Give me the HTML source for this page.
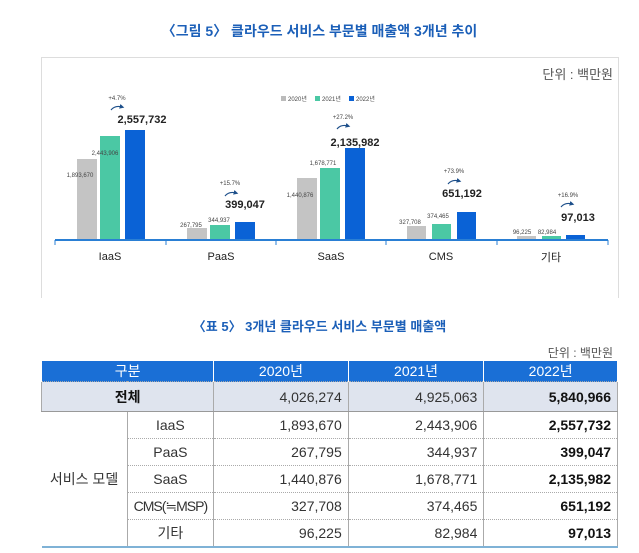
<!DOCTYPE html>
<html><head><meta charset="utf-8"><style>
body{margin:0;width:639px;height:553px;background:#fff;font-family:"Liberation Sans","Noto Sans CJK KR",sans-serif;position:relative;overflow:hidden}
.t{position:absolute;white-space:nowrap}
table{position:absolute;left:41px;top:361px;width:577px;border-collapse:collapse;font-size:14px;color:#333}
td{height:26px;padding:0 6px;border:1px solid #aaa;border-top:1px dotted #aaa;border-bottom:1px dotted #aaa}
td.n{text-align:right}
td.b{font-weight:bold;color:#111}
tr.h td{background:#1a6fd6;color:#fff;height:19px;text-align:center;border-color:#fff;border-top:none;border-bottom:none}
tr.a td{background:#dfe4ee;height:29px;border-bottom:1px solid #999}
tr:last-child td{border-bottom:2px solid #7fb2d6}
</style></head><body>
<div class="t" style="left:0;width:639px;text-align:center;top:21px;font-size:14px;font-weight:bold;color:#1b5fb8">〈그림 5〉 클라우드 서비스 부문별 매출액 3개년 추이</div>
<div style="position:absolute;left:41px;top:57px;width:576px;height:240px;border:1px solid #ddd;border-bottom:none"></div>
<div class="t" style="right:26px;top:64px;font-size:13px;color:#555">단위 : 백만원</div>
<svg width="639" height="300" style="position:absolute;left:0;top:0" font-family="Liberation Sans, Noto Sans CJK KR, sans-serif">
<defs><marker id="m" markerWidth="4" markerHeight="4" refX="2" refY="2" orient="auto"><path d="M0 0 L4 2 L0 4z" fill="#1d4f8a"/></marker></defs>
<rect x="281" y="96" width="5" height="5" fill="#bbb"/><text x="288" y="101" font-size="6" fill="#444">2020년</text>
<rect x="315" y="96" width="5" height="5" fill="#4bc8a4"/><text x="322" y="101" font-size="6" fill="#444">2021년</text>
<rect x="349" y="96" width="5" height="5" fill="#0a62d6"/><text x="356" y="101" font-size="6" fill="#444">2022년</text>
<g>
<rect x="77" y="159" width="20" height="81" fill="#c4c4c4"/><rect x="100" y="136" width="20" height="104" fill="#4bc8a4"/><rect x="125" y="130" width="20" height="110" fill="#0a62d6"/>
<rect x="187" y="228" width="20" height="12" fill="#c4c4c4"/><rect x="210" y="225" width="20" height="15" fill="#4bc8a4"/><rect x="235" y="222" width="20" height="18" fill="#0a62d6"/>
<rect x="297" y="178" width="20" height="62" fill="#c4c4c4"/><rect x="320" y="168" width="20" height="72" fill="#4bc8a4"/><rect x="345" y="148" width="20" height="92" fill="#0a62d6"/>
<rect x="407" y="226" width="19" height="14" fill="#c4c4c4"/><rect x="432" y="224" width="19" height="16" fill="#4bc8a4"/><rect x="457" y="212" width="19" height="28" fill="#0a62d6"/>
<rect x="517" y="236" width="19" height="4" fill="#c4c4c4"/><rect x="542" y="236" width="19" height="4" fill="#4bc8a4"/><rect x="566" y="235" width="19" height="5" fill="#0a62d6"/>
</g>
<line x1="55" y1="240" x2="608" y2="240" stroke="#2a7fd4" stroke-width="2"/>
<g stroke="#2a7fd4" stroke-width="1"><line x1="55" y1="240" x2="55" y2="245"/><line x1="166" y1="240" x2="166" y2="245"/><line x1="276" y1="240" x2="276" y2="245"/><line x1="386" y1="240" x2="386" y2="245"/><line x1="497" y1="240" x2="497" y2="245"/><line x1="608" y1="240" x2="608" y2="245"/></g>
<g font-size="11" fill="#222" text-anchor="middle"><text x="110" y="260">IaaS</text><text x="221" y="260">PaaS</text><text x="331" y="260">SaaS</text><text x="441" y="260">CMS</text><text x="551" y="261">기타</text></g>
<g font-size="11" font-weight="bold" fill="#222" text-anchor="middle"><text x="142" y="123">2,557,732</text><text x="245" y="208">399,047</text><text x="355" y="146">2,135,982</text><text x="462" y="197">651,192</text><text x="578" y="221">97,013</text></g>
<g font-size="6" fill="#444" text-anchor="middle"><text x="80" y="177">1,893,670</text><text x="105" y="155">2,443,906</text><text x="191" y="227">267,795</text><text x="219" y="222">344,937</text><text x="300" y="197">1,440,876</text><text x="323" y="165">1,678,771</text><text x="410" y="224">327,708</text><text x="438" y="218">374,465</text><text x="522" y="234">96,225</text><text x="547" y="234">82,984</text>
<text x="117" y="100">+4.7%</text><text x="230" y="185">+15.7%</text><text x="343" y="146" dy="-27">+27.2%</text><text x="454" y="173">+73.9%</text><text x="568" y="197">+16.9%</text></g>
<g fill="none" stroke="#1d4f8a" stroke-width="1.2" marker-end="url(#m)"><path d="M111 110 q4 -5 11 -3"/><path d="M225 196 q4 -5 11 -3"/><path d="M337 129 q4 -5 11 -3"/><path d="M448 184 q4 -5 11 -3"/><path d="M561 207 q4 -5 11 -3"/></g>
</svg>
<div class="t" style="left:0;width:639px;text-align:center;top:316px;font-size:13px;font-weight:bold;color:#1b5fb8">〈표 5〉 3개년 클라우드 서비스 부문별 매출액</div>
<div class="t" style="right:26px;top:344px;font-size:12px;color:#555">단위 : 백만원</div>
<table>
<colgroup><col style="width:86px"><col style="width:86px"><col style="width:135px"><col style="width:136px"><col style="width:134px"></colgroup>
<tr class="h"><td colspan="2">구분</td><td>2020년</td><td>2021년</td><td>2022년</td></tr>
<tr class="a"><td colspan="2" style="text-align:center;font-weight:bold;color:#111">전체</td><td class="n">4,026,274</td><td class="n">4,925,063</td><td class="n b">5,840,966</td></tr>
<tr><td rowspan="5" style="text-align:center;border-left:none;border-bottom:2px solid #7fb2d6">서비스 모델</td><td style="text-align:center">IaaS</td><td class="n">1,893,670</td><td class="n">2,443,906</td><td class="n b">2,557,732</td></tr>
<tr><td style="text-align:center">PaaS</td><td class="n">267,795</td><td class="n">344,937</td><td class="n b">399,047</td></tr>
<tr><td style="text-align:center">SaaS</td><td class="n">1,440,876</td><td class="n">1,678,771</td><td class="n b">2,135,982</td></tr>
<tr><td style="text-align:center;letter-spacing:-1px">CMS(≒MSP)</td><td class="n">327,708</td><td class="n">374,465</td><td class="n b">651,192</td></tr>
<tr><td style="text-align:center">기타</td><td class="n">96,225</td><td class="n">82,984</td><td class="n b">97,013</td></tr>
</table>
</body></html>
